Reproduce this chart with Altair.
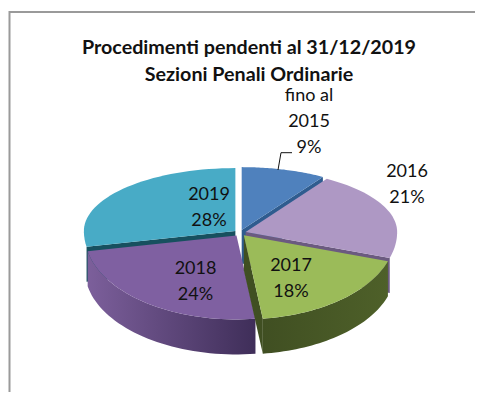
import math
import altair as alt
import pandas as pd

categories = ["fino al 2015", "2016", "2017", "2018", "2019"]
shares = [9, 21, 18, 24, 28]
top_colors = ["#4F81BD", "#AE98C4", "#9BBB59", "#7F60A1", "#48ABC6"]
wall_stops = [["#2F5C8F", "#2F5C8F"], ["#6B5A80", "#6B5A80"], ["#4E6029", "#404F22"],
              ["#7C5F9B", "#3F2E59"], ["#17505F", "#17505F"]]
title_lines = ["Procedimenti pendenti al 31/12/2019", "Sezioni Penali Ordinarie"]

# pie projection
CX, CY, RX, RY_BACK, RY_FRONT, DEPTH, EXPLODE = 240, 233, 151.5, 63, 84, 35, 6

def pt(theta, dx, dy, drop=0):
    c = math.cos(theta)
    return (CX + dx + RX * math.sin(theta),
            CY + dy + drop - (RY_BACK if c > 0 else RY_FRONT) * c)

def frame(pts):
    return pd.DataFrame({"x": [p[0] for p in pts], "y": [p[1] for p in pts], "i": range(len(pts))})

xs = alt.Scale(domain=[8, 475], range=[0, 467])
ys = alt.Scale(domain=[8, 392], range=[0, 384])

def poly(pts, fill):
    return alt.Chart(frame(pts)).mark_line(fill=fill, strokeWidth=0, interpolate="linear-closed").encode(
        x=alt.X("x:Q", scale=xs, axis=None),
        y=alt.Y("y:Q", scale=ys, axis=None),
        order="i:Q",
    )

def grad(a, b):
    return alt.LinearGradient(gradient="linear", x1=0, x2=1, y1=0, y2=0,
                              stops=[alt.GradientStop(offset=0, color=a), alt.GradientStop(offset=1, color=b)])

layers = []
total = sum(shares)
cum = 0
slices = []
for k, s in enumerate(shares):
    t1 = 2 * math.pi * cum / total
    cum += s
    t2 = 2 * math.pi * cum / total
    mid = (t1 + t2) / 2
    dx, dy = EXPLODE * math.sin(mid), -EXPLODE * 0.5 * math.cos(mid)
    arc = [pt(t1 + (t2 - t1) * j / 40, dx, dy) for j in range(41)]
    low = [pt(t1 + (t2 - t1) * j / 40, dx, dy, DEPTH) for j in range(41)]
    apex = (CX + dx, CY + dy)
    apex_low = (apex[0], apex[1] + DEPTH)
    slices.append(dict(t1=t1, t2=t2, mid=mid, arc=arc, low=low, apex=apex, apex_low=apex_low))

for k in [0, 4, 1, 3, 2]:
    sl = slices[k]
    a, b = wall_stops[k]
    if math.sin(sl["t1"]) < -1e-9:
        layers.append(poly([sl["apex"], sl["arc"][0], sl["low"][0], sl["apex_low"]], b))
    if math.sin(sl["t2"]) > 1e-9:
        layers.append(poly([sl["apex"], sl["arc"][-1], sl["low"][-1], sl["apex_low"]], b))
    if math.cos(sl["mid"]) < 0:
        layers.append(poly(sl["arc"] + sl["low"][::-1], grad(b, a) if k == 2 else grad(a, b)))
    layers.append(poly([sl["apex"]] + sl["arc"], top_colors[k]))

# frame of the chart area (runs off the picture at right and bottom)
border = alt.Chart(pd.DataFrame({"x": [9.5, 9.5, 475], "y": [392, 12, 12], "i": [0, 1, 2]})).mark_line(
    color="#9A9A9A", strokeWidth=2).encode(
    x=alt.X("x:Q", scale=xs, axis=None), y=alt.Y("y:Q", scale=ys, axis=None), order="i:Q")

leader = alt.Chart(pd.DataFrame({"x": [278, 281, 292], "y": [170, 152.7, 152.7], "i": [0, 1, 2]})).mark_line(
    color="#111111", strokeWidth=1).encode(
    x=alt.X("x:Q", scale=xs, axis=None), y=alt.Y("y:Q", scale=ys, axis=None), order="i:Q")

label_text = [["fino al", "2015", "9%"], ["2016", "21%"], ["2017", "18%"], ["2018", "24%"], ["2019", "28%"]]
label_x = [309, 407, 291, 195.5, 209]
label_y = [96, 172, 266, 268.5, 195]
labels = alt.Chart(pd.DataFrame({"t": label_text, "x": label_x, "y": label_y})).mark_text(
    font="Lato", fontSize=18, color="#111111", lineHeight=26, baseline="middle", align="center").encode(
    x=alt.X("x:Q", scale=xs, axis=None), y=alt.Y("y:Q", scale=ys, axis=None), text="t:N")

title = alt.Chart(pd.DataFrame({"t": [title_lines], "x": [249], "y": [48]})).mark_text(
    font="Lato", fontSize=19.7, fontWeight="bold", color="#111111", lineHeight=27, baseline="middle", align="center").encode(
    x=alt.X("x:Q", scale=xs, axis=None), y=alt.Y("y:Q", scale=ys, axis=None), text="t:N")

chart = alt.layer(border, *layers, leader, labels, title).properties(
    width=467, height=384, padding=0, autosize=alt.AutoSizeParams(type="none"), background="white"
).configure_view(stroke=None)

chart.save("out.html", embed_options={"renderer": "svg", "actions": False})
